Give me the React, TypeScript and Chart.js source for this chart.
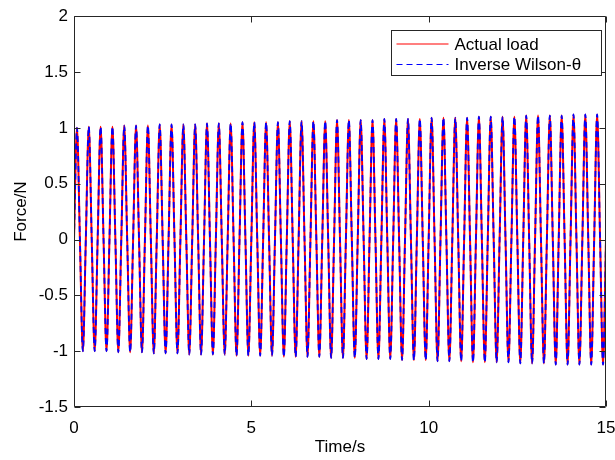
import React, { useEffect, useRef } from "react";
import { Chart, registerables } from "chart.js";

Chart.register(...registerables);

// Oscillation period (45 cycles over 15 s)
const PERIOD = 1 / 3;

// Peak / trough value of each cycle
const actualPeaks = [
  1.0, 1.01, 1.01, 1.01, 1.02, 1.02, 1.02, 1.03, 1.03, 1.03, 1.03, 1.04, 1.04, 1.04, 1.05,
  1.05, 1.05, 1.05, 1.06, 1.06, 1.06, 1.06, 1.07, 1.07, 1.07, 1.07, 1.08, 1.08, 1.08, 1.08,
  1.09, 1.09, 1.09, 1.09, 1.1, 1.1, 1.1, 1.1, 1.11, 1.11, 1.11, 1.11, 1.12, 1.12, 1.12,
];
const actualTroughs = [
  -1.0, -1.0, -1.0, -1.01, -1.01, -1.01, -1.02, -1.02, -1.02, -1.03, -1.03, -1.03, -1.03, -1.04, -1.04,
  -1.04, -1.04, -1.05, -1.05, -1.05, -1.05, -1.06, -1.06, -1.06, -1.07, -1.07, -1.07, -1.08, -1.08, -1.08,
  -1.09, -1.09, -1.09, -1.1, -1.1, -1.1, -1.1, -1.11, -1.11, -1.11, -1.12, -1.12, -1.12, -1.12, -1.12,
];
const wilsonPeaks = [
  1.0, 1.01, 1.01, 1.01, 1.02, 1.02, 1.02, 1.03, 1.03, 1.03, 1.03, 1.04, 1.04, 1.04, 1.05,
  1.05, 1.05, 1.05, 1.06, 1.06, 1.06, 1.06, 1.07, 1.07, 1.07, 1.07, 1.08, 1.08, 1.08, 1.08,
  1.09, 1.09, 1.09, 1.09, 1.1, 1.1, 1.1, 1.1, 1.11, 1.11, 1.11, 1.11, 1.12, 1.12, 1.12,
];
const wilsonTroughs = [
  -1.0, -1.0, -1.0, -1.01, -1.01, -1.01, -1.02, -1.02, -1.02, -1.03, -1.03, -1.03, -1.03, -1.04, -1.04,
  -1.04, -1.04, -1.05, -1.05, -1.05, -1.05, -1.06, -1.06, -1.06, -1.07, -1.07, -1.07, -1.08, -1.08, -1.08,
  -1.09, -1.09, -1.09, -1.1, -1.1, -1.1, -1.1, -1.11, -1.11, -1.11, -1.12, -1.12, -1.12, -1.12, -1.12,
];

const xTicks = [0, 5, 10, 15];
const yTicks = [-1.5, -1, -0.5, 0, 0.5, 1, 1.5, 2];
const seriesLabels = ["Actual load", "Inverse Wilson-θ"];
const xTitle = "Time/s";
const yTitle = "Force/N";

const FONT = "'Liberation Sans', Arial, Helvetica, sans-serif";
const AXIS_COLOR = "#262626";

function buildSeries(peaks: number[], troughs: number[]) {
  const pts: { x: number; y: number }[] = [{ x: 0, y: 0 }];
  peaks.forEach((p, k) => {
    const t0 = k * PERIOD;
    pts.push({ x: t0 + PERIOD / 4, y: p });
    pts.push({ x: t0 + PERIOD / 2, y: 0 });
    pts.push({ x: t0 + (3 * PERIOD) / 4, y: troughs[k] });
    pts.push({ x: t0 + PERIOD, y: 0 });
  });
  return pts;
}

const matlabAxes = {
  id: "matlabAxes",
  afterDatasetsDraw(chart: any) {
    const { ctx, chartArea } = chart;
    const { left, right, top, bottom } = chartArea;
    const xs = chart.scales.x;
    const ys = chart.scales.y;
    const L = Math.round(left) + 0.5;
    const R = Math.round(right) - 0.5;
    const T = Math.round(top) + 0.5;
    const B = Math.round(bottom) - 0.5;
    const tl = 6;
    ctx.save();
    ctx.strokeStyle = AXIS_COLOR;
    ctx.lineWidth = 1;
    ctx.beginPath();
    ctx.rect(L, T, R - L, B - T);
    xTicks.forEach((v) => {
      const px = Math.round(xs.getPixelForValue(v)) + 0.5;
      ctx.moveTo(px, B);
      ctx.lineTo(px, B - tl);
      ctx.moveTo(px, T);
      ctx.lineTo(px, T + tl);
    });
    yTicks.forEach((v) => {
      const py = Math.round(ys.getPixelForValue(v)) + 0.5;
      ctx.moveTo(L, py);
      ctx.lineTo(L + tl, py);
      ctx.moveTo(R, py);
      ctx.lineTo(R - tl, py);
    });
    ctx.stroke();
    ctx.restore();
  },
  afterDraw(chart: any) {
    const { ctx, chartArea } = chart;
    const boxR = Math.round(chartArea.right) - 4.5;
    const boxL = boxR - 210;
    const boxT = Math.round(chartArea.top) + 14.5;
    const boxB = boxT + 45;
    const ds = chart.data.datasets;
    ctx.save();
    ctx.fillStyle = "#ffffff";
    ctx.fillRect(boxL, boxT, boxR - boxL, boxB - boxT);
    ctx.strokeStyle = AXIS_COLOR;
    ctx.lineWidth = 1;
    ctx.strokeRect(boxL, boxT, boxR - boxL, boxB - boxT);
    const rows = [boxT + 13.5, boxT + 34];
    ds.forEach((d: any, i: number) => {
      const y = rows[i];
      ctx.beginPath();
      ctx.strokeStyle = d.borderColor;
      ctx.lineWidth = 1.2;
      ctx.setLineDash(d.borderDash || []);
      ctx.moveTo(boxL + 5, y);
      ctx.lineTo(boxL + 57, y);
      ctx.stroke();
      ctx.setLineDash([]);
      ctx.fillStyle = "#000000";
      ctx.font = `17px ${FONT}`;
      ctx.textBaseline = "alphabetic";
      ctx.textAlign = "left";
      ctx.fillText(d.label, boxL + 63, y + 5.5);
    });
    ctx.restore();
  },
};

export default function App() {
  const ref = useRef<HTMLCanvasElement | null>(null);

  useEffect(() => {
    document.body.style.margin = "0";
    const canvas = ref.current;
    if (!canvas) return;
    const chart = new Chart(canvas, {
      type: "line",
      data: {
        datasets: [
          {
            label: seriesLabels[0],
            data: buildSeries(actualPeaks, actualTroughs),
            borderColor: "#ff0000",
            borderWidth: 2,
            pointRadius: 0,
            cubicInterpolationMode: "monotone",
            order: 2,
          },
          {
            label: seriesLabels[1],
            data: buildSeries(wilsonPeaks, wilsonTroughs),
            borderColor: "#0000ff",
            borderWidth: 1.8,
            borderDash: [6, 4],
            pointRadius: 0,
            cubicInterpolationMode: "monotone",
            order: 1,
          },
        ],
      },
      options: {
        animation: false,
        responsive: false,
        events: [],
        layout: { padding: { top: 14, right: 9, left: 0, bottom: 0 } },
        plugins: {
          legend: { display: false },
          tooltip: { enabled: false },
        },
        scales: {
          x: {
            type: "linear",
            min: 0,
            max: 15,
            afterBuildTicks: (s: any) => {
              s.ticks = xTicks.map((v) => ({ value: v }));
            },
            afterFit: (s: any) => {
              s.height = 53;
              s.paddingLeft = 0;
              s.paddingRight = 9;
            },
            grid: { display: false, drawTicks: false },
            border: { display: false },
            ticks: {
              padding: 11,
              color: "#000000",
              font: { family: FONT, size: 17 },
              maxRotation: 0,
              callback: (v: any) => String(v),
            },
            title: {
              display: true,
              text: xTitle,
              color: "#000000",
              font: { family: FONT, size: 17 },
              padding: { top: 0, bottom: 2 },
            },
          },
          y: {
            type: "linear",
            min: -1.5,
            max: 2,
            afterBuildTicks: (s: any) => {
              s.ticks = yTicks.map((v) => ({ value: v }));
            },
            afterFit: (s: any) => {
              s.width = 74;
            },
            grid: { display: false, drawTicks: false },
            border: { display: false },
            ticks: {
              padding: 6,
              color: "#000000",
              font: { family: FONT, size: 17 },
              callback: (v: any) => String(v),
            },
            title: {
              display: true,
              text: yTitle,
              color: "#000000",
              font: { family: FONT, size: 17 },
              padding: { top: 11, bottom: 0 },
            },
          },
        },
      },
      plugins: [matlabAxes],
    } as any);
    return () => chart.destroy();
  }, []);

  return (
    <div style={{ width: 615, height: 460 }}>
      <canvas ref={ref} width={615} height={460} style={{ display: "block" }} />
    </div>
  );
}
